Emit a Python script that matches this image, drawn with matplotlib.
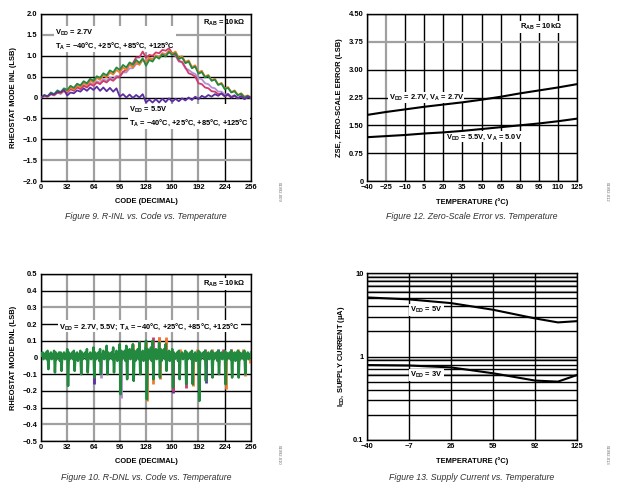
import numpy as np
import matplotlib
matplotlib.use("Agg")
import matplotlib.pyplot as plt
from matplotlib.ticker import LogLocator, NullFormatter, FixedLocator

plt.rcParams['font.family'] = ['Liberation Sans', 'DejaVu Sans']
plt.rcParams['mathtext.fontset'] = 'custom'
plt.rcParams['mathtext.rm'] = 'Liberation Sans:bold'
plt.rcParams['mathtext.it'] = 'Liberation Sans:bold'
plt.rcParams['mathtext.bf'] = 'Liberation Sans:bold'
plt.rcParams['mathtext.default'] = 'rm'

# ---- Figure 9: R-INL vs code (values every 4 codes) ----
inl_codes = np.arange(0, 257, 4)
inl_green = [0.00, 0.06, 0.03, 0.12, 0.08, 0.17, 0.13, 0.22,
             0.18, 0.28, 0.23, 0.33, 0.29, 0.39, 0.34, 0.45,
             0.40, 0.51, 0.47, 0.58, 0.53, 0.65, 0.60, 0.72,
             0.66, 0.78, 0.72, 0.84, 0.78, 0.90, 0.83, 0.94,
             0.76, 0.90, 0.86, 0.98, 0.93, 1.03, 0.98, 1.09,
             1.02, 1.06, 0.92, 0.96, 0.82, 0.86, 0.70, 0.74,
             0.57, 0.61, 0.48, 0.52, 0.40, 0.43, 0.30, 0.33,
             0.20, 0.23, 0.12, 0.15, 0.05, 0.09, 0.00, 0.04, -0.02]
inl_orange = [0.00, 0.04, 0.02, 0.10, 0.06, 0.14, 0.10, 0.19,
              0.15, 0.24, 0.19, 0.29, 0.25, 0.35, 0.30, 0.41,
              0.36, 0.47, 0.42, 0.53, 0.48, 0.60, 0.55, 0.66,
              0.60, 0.72, 0.66, 0.79, 0.72, 0.85, 0.78, 0.91,
              0.84, 0.96, 0.90, 1.01, 0.96, 1.06, 1.01, 1.12,
              1.05, 1.10, 0.95, 0.99, 0.85, 0.89, 0.73, 0.77,
              0.60, 0.64, 0.50, 0.54, 0.41, 0.45, 0.31, 0.35,
              0.22, 0.25, 0.13, 0.17, 0.06, 0.10, 0.02, 0.05, 0.00]
inl_pink = [0.00, 0.03, 0.02, 0.08, 0.05, 0.12, 0.09, 0.16,
            0.12, 0.20, 0.16, 0.24, 0.20, 0.28, 0.24, 0.32,
            0.28, 0.36, 0.32, 0.40, 0.36, 0.44, 0.40, 0.48,
            0.50, 0.62, 0.66, 0.80, 0.82, 0.96, 0.96, 1.10,
            0.95, 1.02, 1.00, 1.08, 1.06, 1.14, 1.12, 1.18,
            1.06, 1.02, 0.88, 0.85, 0.72, 0.58, 0.55, 0.50,
            0.34, 0.32, 0.24, 0.22, 0.15, 0.14, 0.08, 0.09,
            0.03, 0.06, 0.00, 0.04, -0.02, 0.03, -0.03, 0.01, 0.00]
inl_lavender = [0.00, 0.04, 0.02, 0.09, 0.06, 0.13, 0.10, 0.17,
                0.13, 0.21, 0.17, 0.26, 0.22, 0.30, 0.26, 0.35,
                0.31, 0.39, 0.35, 0.44, 0.40, 0.48, 0.44, 0.52,
                0.50, 0.60, 0.60, 0.70, 0.70, 0.80, 0.80, 0.90,
                0.86, 0.94, 0.92, 1.00, 0.98, 1.06, 1.04, 1.12,
                1.02, 1.00, 0.86, 0.84, 0.70, 0.66, 0.60, 0.56,
                0.46, 0.44, 0.34, 0.32, 0.24, 0.22, 0.14, 0.14,
                0.07, 0.09, 0.02, 0.05, -0.01, 0.03, -0.03, 0.01, 0.00]
inl_purple = [0.00, 0.05, 0.03, 0.09, 0.07, 0.13, 0.12, 0.18,
              0.05, 0.12, 0.10, 0.17, 0.14, 0.22, 0.16, 0.24,
              0.18, 0.26, 0.16, 0.24, 0.15, 0.23, 0.14, 0.22,
              0.02, 0.08, 0.00, 0.07, -0.01, 0.06, 0.00, 0.08,
              -0.12, -0.05, -0.12, -0.04, -0.12, -0.03, -0.11, -0.02,
              -0.10, -0.03, -0.09, -0.02, -0.07, 0.00, -0.06, 0.02,
              -0.04, 0.04, 0.00, 0.06, 0.02, 0.08, 0.04, 0.10,
              0.03, 0.08, 0.00, 0.05, -0.02, 0.03, -0.04, 0.02, 0.00]

# ---- Figure 10: R-DNL vs code (green trace, every code 0..256) ----
dnl_green = [0.02,
    0.01, 0.03, -0.01, 0.02, 0.00, 0.03, -0.01, 0.04,
    -0.07, 0.02, 0.00, 0.03, -0.01, 0.02, 0.01, 0.04,
    -0.09, 0.03, -0.01, 0.02, 0.01, 0.03, -0.02, 0.03,
    -0.08, 0.02, 0.00, 0.03, -0.01, 0.02, 0.01, 0.05,
    -0.17, 0.03, -0.01, 0.02, 0.00, 0.03, -0.01, 0.04,
    -0.08, 0.02, 0.01, 0.03, -0.02, 0.02, 0.00, 0.04,
    -0.10, 0.03, -0.01, 0.02, 0.01, 0.03, -0.01, 0.05,
    -0.09, 0.02, 0.00, 0.03, -0.01, 0.02, 0.01, 0.06,
    -0.12, 0.03, -0.01, 0.02, 0.00, 0.03, -0.02, 0.05,
    -0.10, 0.02, 0.01, 0.04, -0.01, 0.02, 0.00, 0.07,
    -0.10, 0.03, -0.01, 0.02, 0.01, 0.03, -0.01, 0.06,
    -0.09, 0.02, 0.00, 0.04, -0.02, 0.03, 0.01, 0.08,
    -0.22, 0.04, -0.01, 0.03, 0.00, 0.04, -0.02, 0.07,
    -0.13, 0.03, 0.00, 0.05, -0.01, 0.03, 0.01, 0.08,
    -0.14, 0.04, -0.02, 0.03, 0.01, 0.05, -0.01, 0.09,
    -0.10, 0.03, 0.00, 0.04, -0.02, 0.03, 0.02, 0.10,
    -0.25, 0.05, -0.01, 0.04, 0.00, 0.06, -0.02, 0.10,
    -0.13, 0.04, 0.01, 0.05, -0.01, 0.04, 0.00, 0.09,
    -0.12, 0.05, -0.02, 0.04, 0.01, 0.05, -0.01, 0.08,
    -0.08, 0.03, 0.00, 0.04, -0.02, 0.03, 0.01, 0.05,
    -0.18, 0.03, -0.01, 0.02, 0.00, 0.03, -0.02, 0.04,
    -0.13, 0.02, 0.00, 0.03, -0.01, 0.02, 0.01, 0.04,
    -0.16, 0.03, -0.01, 0.02, 0.00, 0.03, -0.01, 0.04,
    -0.16, 0.02, 0.01, 0.03, -0.02, 0.02, 0.00, 0.04,
    -0.26, 0.03, -0.01, 0.02, 0.01, 0.03, -0.01, 0.04,
    -0.14, 0.02, 0.00, 0.03, -0.01, 0.02, 0.01, 0.04,
    -0.12, 0.03, -0.01, 0.02, 0.00, 0.03, -0.02, 0.04,
    -0.10, 0.02, 0.01, 0.03, -0.01, 0.02, 0.00, 0.04,
    -0.16, 0.03, -0.01, 0.02, 0.01, 0.03, -0.01, 0.04,
    -0.12, 0.02, 0.00, 0.03, -0.02, 0.02, 0.01, 0.04,
    -0.12, 0.03, -0.01, 0.02, 0.00, 0.03, -0.01, 0.04,
    -0.10, 0.02, 0.01, 0.03, -0.01, 0.02, 0.00, 0.03]
dnl_codes = np.arange(len(dnl_green))
# other traces: only where they stick out of the green one
dnl_orange_codes = [104, 112, 120, 128, 129, 137, 144, 145, 152, 185, 225, 249,
                    170, 190, 208, 232, 240, 246, 255]
dnl_orange_vals = [0.06, 0.08, 0.09, 0.09, -0.26, -0.16, 0.12, -0.13, 0.12, -0.17, -0.19, -0.11,
                   0.05, 0.05, 0.05, 0.05, 0.05, 0.05, -0.03]
dnl_pink_codes = [120, 136, 144, 161, 177, 200, 16, 40, 222]
dnl_pink_vals = [0.10, 0.12, 0.12, -0.20, -0.18, 0.05, 0.03, 0.03, 0.05]
dnl_purple_codes = [65, 161, 201, 152, 216, 232]
dnl_purple_vals = [-0.16, -0.21, -0.15, 0.11, 0.05, 0.05]
dnl_lav_codes = [65, 73, 97, 161]
dnl_lav_vals = [-0.15, -0.12, -0.24, -0.20]

# ---- Figure 12: zero-scale error vs temperature ----
zse_temp = [-40, -25, -10, 5, 20, 35, 50, 65, 80, 95, 110, 125]
zse_27 = [1.78, 1.86, 1.93, 2.00, 2.06, 2.12, 2.19, 2.27, 2.36, 2.44, 2.52, 2.61]
zse_55 = [1.18, 1.21, 1.24, 1.28, 1.31, 1.35, 1.40, 1.45, 1.50, 1.55, 1.61, 1.68]

# ---- Figure 13: supply current vs temperature ----
idd_temp = [-40, -7, 26, 59, 92, 110, 125]
idd_5v = [5.1, 4.83, 4.36, 3.63, 2.86, 2.56, 2.65]
idd_3v = [0.79, 0.78, 0.74, 0.63, 0.515, 0.50, 0.60]

GREEN = '#23893f'
ORANGE = '#f47a2a'
PINK = '#cf3b6c'
LAV = '#b48ed2'
PURPLE = '#5b2fa0'

TS = 5.4
fig = plt.figure(figsize=(6.2, 4.95), dpi=100)
W, H = 620, 495


def make_ax(l, t, r, b):
    return fig.add_axes([l / W, 1 - b / H, (r - l) / W, (b - t) / H])


def style(ax, gray_x=(), gray_y=()):
    ax.tick_params(length=0, labelsize=TS, pad=2.5)
    for lab in ax.get_xticklabels() + ax.get_yticklabels():
        lab.set_fontweight('bold')
    for s in ax.spines.values():
        s.set_linewidth(1.0)
    ax.grid(True, color='black', lw=1.0)
    for i, gl in enumerate(ax.get_xgridlines()):
        if i in gray_x:
            gl.set_color('#a0a0a0')
            gl.set_linewidth(1.6)
    for i, gl in enumerate(ax.get_ygridlines()):
        if i in gray_y:
            gl.set_color('#a0a0a0')
            gl.set_linewidth(1.6)
    ax.set_axisbelow(True)


box = dict(facecolor='white', edgecolor='none', pad=0.6)
lab_kw = dict(fontsize=TS, fontweight='bold')
note_kw = dict(fontsize=TS, fontweight='bold', va='center', ha='left', bbox=box, zorder=2)
cap_kw = dict(fontsize=6.3, style='italic', color='#333333', ha='center')

# Figure 9
ax1 = make_ax(41, 14, 251, 181)
ax1.plot(inl_codes, inl_lavender, color=LAV, lw=1.3, zorder=3)
ax1.plot(inl_codes, inl_pink, color=PINK, lw=1.3, zorder=3)
ax1.plot(inl_codes, inl_orange, color=ORANGE, lw=1.3, zorder=3)
ax1.plot(inl_codes, inl_green, color=GREEN, lw=1.3, zorder=3)
ax1.plot(inl_codes, inl_purple, color=PURPLE, lw=1.3, zorder=3)
ax1.set_xlim(0, 256)
ax1.set_ylim(-2, 2)
ax1.set_xticks(range(0, 257, 32))
ax1.set_yticks(np.arange(-2, 2.01, 0.5))
ax1.set_yticklabels(['\u22122.0', '\u22121.5', '\u22121.0', '\u22120.5', '0', '0.5', '1.0', '1.5', '2.0'])
style(ax1, gray_x=(1, 2, 3, 4, 5, 6), gray_y=(1, 7))
ax1.set_xlabel('CODE (DECIMAL)', labelpad=5, **lab_kw)
ax1.set_ylabel('RHEOSTAT MODE INL (LSB)', labelpad=4, **lab_kw)
ax1.text(17, 1.4, 'V$_{DD}$ = 2.7V\nT$_{A}$ = \u221240\u00b0C, +25\u00b0C, +85\u00b0C, +125\u00b0C',
         linespacing=1.4, **note_kw)
ax1.text(107, -0.45, 'V$_{DD}$ = 5.5V\nT$_{A}$ = \u221240\u00b0C, +25\u00b0C, +85\u00b0C, +125\u00b0C',
         linespacing=1.4, **note_kw)
ax1.text(197, 1.78, 'R$_{AB}$ = 10k\u03a9', fontsize=TS, fontweight='bold', va='center', ha='left')
fig.text(146 / W, 1 - 217 / H, 'Figure 9. R-INL vs. Code vs. Temperature', va='center', **cap_kw)
fig.text(279 / W, 1 - 192 / H, '01992-009', rotation=270, fontsize=3, color='#666666', va='center', ha='center')

# Figure 12
ax2 = make_ax(367, 14, 577, 181)
ax2.plot(zse_temp, zse_27, color='black', lw=1.5, zorder=3)
ax2.plot(zse_temp, zse_55, color='black', lw=1.5, zorder=3)
ax2.set_xlim(-40, 125)
ax2.set_ylim(0, 4.5)
ax2.set_xticks(zse_temp)
ax2.set_xticklabels(['\u221240', '\u221225', '\u221210', '5', '20', '35', '50', '65', '80', '95', '110', '125'])
ax2.set_yticks([0, 0.75, 1.5, 2.25, 3.0, 3.75, 4.5])
ax2.set_yticklabels(['0', '0.75', '1.50', '2.25', '3.00', '3.75', '4.50'])
style(ax2, gray_x=(1,), gray_y=(5,))
ax2.set_xlabel('TEMPERATURE (\u00b0C)', labelpad=5, **lab_kw)
ax2.set_ylabel('ZSE, ZERO-SCALE ERROR (LSB)', labelpad=4, **lab_kw)
ax2.text(-23, 2.25, 'V$_{DD}$ = 2.7V, V$_{A}$ = 2.7V', **note_kw)
ax2.text(22, 1.19, 'V$_{DD}$ = 5.5V, V$_{A}$ = 5.0V', **note_kw)
ax2.text(80, 4.15, 'R$_{AB}$ = 10k\u03a9', **note_kw)
fig.text(472 / W, 1 - 217 / H, 'Figure 12. Zero-Scale Error vs. Temperature', va='center', **cap_kw)
fig.text(607 / W, 1 - 192 / H, '01992-012', rotation=270, fontsize=3, color='#666666', va='center', ha='center')

# Figure 10
ax3 = make_ax(41, 274, 251, 441)
ax3.vlines(dnl_lav_codes, 0, dnl_lav_vals, color=LAV, lw=2.0, zorder=2.5)
ax3.vlines(dnl_purple_codes, 0, dnl_purple_vals, color=PURPLE, lw=2.0, zorder=2.5)
ax3.vlines(dnl_pink_codes, 0, dnl_pink_vals, color=PINK, lw=2.0, zorder=2.5)
ax3.vlines(dnl_orange_codes, 0, dnl_orange_vals, color=ORANGE, lw=2.0, zorder=2.5)
ax3.plot(dnl_codes, dnl_green, color=GREEN, lw=1.8, zorder=3)
ax3.set_xlim(0, 256)
ax3.set_ylim(-0.5, 0.5)
ax3.set_xticks(range(0, 257, 32))
ax3.set_yticks(np.round(np.arange(-0.5, 0.51, 0.1), 1))
ax3.set_yticklabels(['\u22120.5', '\u22120.4', '\u22120.3', '\u22120.2', '\u22120.1', '0',
                     '0.1', '0.2', '0.3', '0.4', '0.5'])
style(ax3, gray_x=(1, 2, 3, 4, 5, 6), gray_y=(1, 8))
ax3.set_xlabel('CODE (DECIMAL)', labelpad=5, **lab_kw)
ax3.set_ylabel('RHEOSTAT MODE DNL (LSB)', labelpad=4, **lab_kw)
ax3.text(22, 0.186, 'V$_{DD}$ = 2.7V, 5.5V; T$_{A}$ = \u221240\u00b0C, +25\u00b0C, +85\u00b0C, +125\u00b0C',
         **note_kw)
ax3.text(197, 0.44, 'R$_{AB}$ = 10k\u03a9', **note_kw)
fig.text(146 / W, 1 - 478 / H, 'Figure 10. R-DNL vs. Code vs. Temperature', va='center', **cap_kw)
fig.text(279 / W, 1 - 455 / H, '01992-010', rotation=270, fontsize=3, color='#666666', va='center', ha='center')

# Figure 13
ax4 = make_ax(367, 273, 577, 440)
ax4.plot(idd_temp, idd_5v, color='black', lw=1.5, zorder=3)
ax4.plot(idd_temp, idd_3v, color='black', lw=1.5, zorder=3)
ax4.set_yscale('log')
ax4.set_xlim(-40, 125)
ax4.set_ylim(0.1, 10)
ax4.set_xticks([-40, -7, 26, 59, 92, 125])
ax4.set_xticklabels(['\u221240', '\u22127', '26', '59', '92', '125'])
ax4.yaxis.set_major_locator(FixedLocator([0.1, 1, 10]))
ax4.set_yticklabels(['0.1', '1', '10'])
ax4.yaxis.set_minor_locator(LogLocator(base=10, subs=range(2, 10)))
ax4.yaxis.set_minor_formatter(NullFormatter())
ax4.tick_params(which='minor', length=0)
style(ax4)
ax4.grid(True, which='minor', axis='y', color='black', lw=1.0)
gray_minor = [0.6, 0.9, 6, 7, 8, 9]
for v in gray_minor:
    ax4.axhline(v, color='#a0a0a0', lw=1.6, zorder=0.5)
ax4.set_xlabel('TEMPERATURE (\u00b0C)', labelpad=5, **lab_kw)
ax4.set_ylabel('I$_{DD}$, SUPPLY CURRENT (\u00b5A)', labelpad=4, **lab_kw)
ax4.text(-6, 3.63, 'V$_{DD}$ = 5V', **note_kw)
ax4.text(-6, 0.60, 'V$_{DD}$ = 3V', **note_kw)
fig.text(472 / W, 1 - 478 / H, 'Figure 13. Supply Current vs. Temperature', va='center', **cap_kw)
fig.text(607 / W, 1 - 455 / H, '01992-013', rotation=270, fontsize=3, color='#666666', va='center', ha='center')

fig.savefig('out.png', dpi=100)
